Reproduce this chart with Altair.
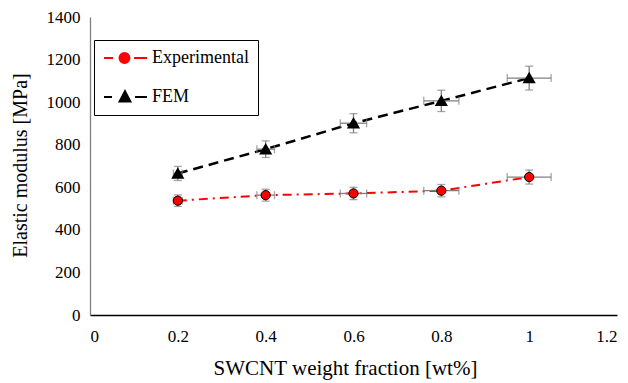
import altair as alt
import pandas as pd

# data
fractions = [0.2, 0.4, 0.6, 0.8, 1.0]
exp_vals = [537, 563, 571, 584, 648]
exp_yerr = [27, 28, 29, 29, 33]
exp_xerr = [0.01, 0.02, 0.03, 0.04, 0.05]
fem_vals = [665, 779, 901, 1006, 1113]
fem_yerr = [33, 39, 45, 50, 56]
fem_xerr = [0.01, 0.02, 0.03, 0.04, 0.05]
series_names = ["Experimental", "FEM"]
x_ticks = [0, 0.2, 0.4, 0.6, 0.8, 1.0, 1.2]
y_ticks = [0, 200, 400, 600, 800, 1000, 1200, 1400]

rows = []
for i, xv in enumerate(fractions):
    rows.append({"x": xv, "y": exp_vals[i], "yerr": exp_yerr[i], "xerr": exp_xerr[i], "series": "Experimental"})
for i, xv in enumerate(fractions):
    rows.append({"x": xv, "y": fem_vals[i], "yerr": fem_yerr[i], "xerr": fem_xerr[i], "series": "FEM"})
df = pd.DataFrame(rows)

FONT = "Liberation Serif"
ERR = "#808080"

base = alt.Chart(df).transform_calculate(
    ylo="datum.y - datum.yerr", yhi="datum.y + datum.yerr",
    xlo="datum.x - datum.xerr", xhi="datum.x + datum.xerr",
)

xscale = alt.Scale(domain=[0, 1.2], nice=False, zero=False)
yscale = alt.Scale(domain=[0, 1400], nice=False)

X = alt.X("x:Q", scale=xscale, axis=alt.Axis(
    values=x_ticks, format="~g", title="SWCNT weight fraction [wt%]",
    labelFont=FONT, titleFont=FONT, titleFontSize=21,
    domainColor="#000000", domainWidth=1.3, labelPadding=13,
    titleX=255, titleY=53, titleBaseline="middle", titleAlign="center"))
Y = alt.Y("y:Q", scale=yscale, axis=alt.Axis(
    values=y_ticks, format="d", title="Elastic modulus [MPa]",
    labelFont=FONT, titleFont=FONT, titleFontSize=20,
    domainColor="#7f7f7f", domainWidth=1.3, labelPadding=10,
    titleX=-70, titleY=148, titleBaseline="middle", titleAlign="center", titleAngle=-90))

exp_f = alt.datum.series == "Experimental"
fem_f = alt.datum.series == "FEM"

line_exp = base.transform_filter(exp_f).mark_line(
    color="#ff0000", strokeWidth=2, strokeDash=[9, 5, 2, 5]).encode(x=X, y=Y)
line_fem = base.transform_filter(fem_f).mark_line(
    color="#000000", strokeWidth=2.5, strokeDash=[10, 6]).encode(x=X, y=Y)

ybar = base.mark_rule(color=ERR, strokeWidth=1.3).encode(
    x="x:Q", y="ylo:Q", y2="yhi:Q")
xbar = base.mark_rule(color=ERR, strokeWidth=1.3).encode(
    y="y:Q", x="xlo:Q", x2="xhi:Q")
ycap_lo = base.mark_tick(color=ERR, orient="horizontal", size=8, thickness=1.3).encode(x="x:Q", y="ylo:Q")
ycap_hi = base.mark_tick(color=ERR, orient="horizontal", size=8, thickness=1.3).encode(x="x:Q", y="yhi:Q")
xcap_lo = base.mark_tick(color=ERR, orient="vertical", size=8, thickness=1.3).encode(x="xlo:Q", y="y:Q")
xcap_hi = base.mark_tick(color=ERR, orient="vertical", size=8, thickness=1.3).encode(x="xhi:Q", y="y:Q")

pts_exp = base.transform_filter(exp_f).mark_point(
    shape="circle", filled=True, fill="#ff0000", stroke="#000000", strokeWidth=1,
    size=85, opacity=1).encode(x="x:Q", y="y:Q")
pts_fem = base.transform_filter(fem_f).mark_point(
    shape="triangle-up", filled=True, fill="#000000", stroke="#000000",
    size=95, opacity=1).encode(x="x:Q", y="y:Q")

exp_sym = ("M-1,0H0.125M2.75,0H4.375"
           "M0.94,0A0.62,0.62,0,1,0,2.18,0A0.62,0.62,0,1,0,0.94,0Z")
fem_sym = "M-1,0H0M2.875,0H4.375M1.625,-0.72L2.3,0.55L0.95,0.55Z"

legend_layer = base.transform_filter("datum.x > 100").mark_point(
    filled=True, strokeWidth=2, size=256, opacity=1).encode(
    x="x:Q", y="y:Q",
    shape=alt.Shape("series:N", scale=alt.Scale(domain=series_names, range=[exp_sym, fem_sym]),
                    legend=alt.Legend(title=None)),
    fill=alt.Fill("series:N", scale=alt.Scale(domain=series_names, range=["#ff0000", "#000000"]),
                  legend=alt.Legend(title=None)),
    stroke=alt.Stroke("series:N", scale=alt.Scale(domain=series_names, range=["#ff0000", "#000000"]),
                      legend=alt.Legend(title=None)),
)

chart = alt.layer(
    line_exp, line_fem, ybar, xbar, ycap_lo, ycap_hi, xcap_lo, xcap_hi,
    pts_exp, pts_fem, legend_layer
).properties(
    width=527, height=298,
    autosize=alt.AutoSizeParams(type="none"),
    padding={"left": 82, "top": 9, "right": 3, "bottom": 68},
).configure_view(stroke=None).configure_axis(
    grid=False, ticks=False,
    labelFont=FONT, labelFontSize=17, labelColor="#000000",
    titleFont=FONT, titleFontWeight="normal", titleColor="#000000",
).configure_legend(
    orient="none", legendX=4, legendY=23, strokeColor="#000000", strokeWidth=1,
    padding=9, rowPadding=20, labelFont=FONT, labelFontSize=18, labelColor="#000000",
    labelOffset=31, symbolSize=256, symbolStrokeWidth=2, symbolOpacity=1,
    fillColor="#ffffff",
)

chart.save("out.html", embed_options={"renderer": "svg", "actions": False})
